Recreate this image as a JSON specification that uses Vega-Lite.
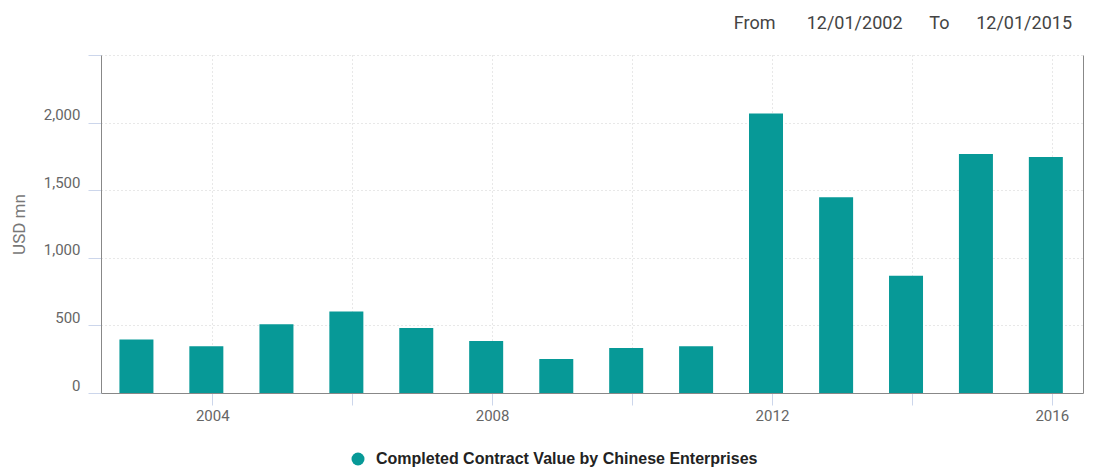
{
  "$schema": "https://vega.github.io/schema/vega-lite/v6.json",
  "width": 982,
  "height": 338,
  "autosize": {"type": "none"},
  "padding": {"left": 101, "top": 55, "right": 11, "bottom": 75},
  "background": "white",
  "title": {
    "text": "From\u00a0\u00a0\u00a0\u00a0\u00a0\u00a0\u00a012/01/2002\u00a0\u00a0\u00a0\u00a0\u00a0\u00a0To\u00a0\u00a0\u00a0\u00a0\u00a0\u00a012/01/2015",
    "anchor": "end",
    "frame": "group",
    "offset": 22,
    "dx": -11,
    "font": "Roboto",
    "fontSize": 18,
    "fontWeight": "normal",
    "color": "#444"
  },
  "data": {
    "values": [
      {"date": "2002-12-01", "value": 395, "series": "Completed Contract Value by Chinese Enterprises"},
      {"date": "2003-12-01", "value": 346, "series": "Completed Contract Value by Chinese Enterprises"},
      {"date": "2004-12-01", "value": 509, "series": "Completed Contract Value by Chinese Enterprises"},
      {"date": "2005-12-01", "value": 602, "series": "Completed Contract Value by Chinese Enterprises"},
      {"date": "2006-12-01", "value": 480, "series": "Completed Contract Value by Chinese Enterprises"},
      {"date": "2007-12-01", "value": 385, "series": "Completed Contract Value by Chinese Enterprises"},
      {"date": "2008-12-01", "value": 252, "series": "Completed Contract Value by Chinese Enterprises"},
      {"date": "2009-12-01", "value": 333, "series": "Completed Contract Value by Chinese Enterprises"},
      {"date": "2010-12-01", "value": 346, "series": "Completed Contract Value by Chinese Enterprises"},
      {"date": "2011-12-01", "value": 2067, "series": "Completed Contract Value by Chinese Enterprises"},
      {"date": "2012-12-01", "value": 1447, "series": "Completed Contract Value by Chinese Enterprises"},
      {"date": "2013-12-01", "value": 867, "series": "Completed Contract Value by Chinese Enterprises"},
      {"date": "2014-12-01", "value": 1768, "series": "Completed Contract Value by Chinese Enterprises"},
      {"date": "2015-12-01", "value": 1746, "series": "Completed Contract Value by Chinese Enterprises"}
    ]
  },
  "layer": [
    {
      "mark": {"type": "bar", "width": 34},
      "encoding": {
        "x": {
          "field": "date",
          "type": "temporal",
          "scale": {"padding": 0, "domain": [{"year": 2002, "month": 5, "date": 30, "utc": true}, {"year": 2016, "month": 6, "date": 12, "utc": true}]},
          "axis": {
            "title": null,
            "values": [
              {"year": 2004, "month": 1, "date": 1, "utc": true},
              {"year": 2006, "month": 1, "date": 1, "utc": true},
              {"year": 2008, "month": 1, "date": 1, "utc": true},
              {"year": 2010, "month": 1, "date": 1, "utc": true},
              {"year": 2012, "month": 1, "date": 1, "utc": true},
              {"year": 2014, "month": 1, "date": 1, "utc": true},
              {"year": 2016, "month": 1, "date": 1, "utc": true}
            ],
            "labelExpr": "utcyear(datum.value) % 4 == 0 ? utcFormat(datum.value, '%Y') : ''",
            "labelFont": "Roboto",
            "labelFontSize": 15,
            "labelColor": "#666",
            "labelPadding": 3,
            "tickColor": "#ccd6eb",
            "tickSize": 12,
            "domainColor": "#888",
            "grid": true,
            "gridColor": "#d0d0d0",
            "gridDash": [1, 3]
          }
        },
        "y": {
          "field": "value",
          "type": "quantitative",
          "scale": {"domain": [0, 2500], "nice": false},
          "axis": {
            "title": "USD mn",
            "titleFont": "Roboto",
            "titleFontSize": 17,
            "titleFontWeight": "normal",
            "titleColor": "#777",
            "titlePadding": 15,
            "values": [0, 500, 1000, 1500, 2000, 2500],
            "labelExpr": "datum.value == 2500 ? '' : format(datum.value, ',')",
            "labelFont": "Roboto",
            "labelFontSize": 15,
            "labelColor": "#666",
            "labelPadding": 8,
            "labelOffset": -8,
            "tickColor": "#ccd6eb",
            "tickSize": 13,
            "domainColor": "#888",
            "grid": true,
            "gridColor": "#d0d0d0",
            "gridDash": [1, 3]
          }
        },
        "color": {
          "field": "series",
          "type": "nominal",
          "scale": {"range": ["#079997"]},
          "legend": {
            "title": null,
            "orient": "none",
            "legendX": 249,
            "legendY": 396,
            "symbolType": "circle",
            "symbolSize": 169,
            "symbolStrokeWidth": 0,
            "labelOffset": 10,
            "labelFont": "Liberation Sans",
            "labelFontWeight": "bold",
            "labelFontSize": 16,
            "labelColor": "#222",
            "labelLimit": 700
          }
        }
      }
    },
    {
      "mark": {"type": "bar", "width": 34, "opacity": 0},
      "encoding": {
        "x": {
          "field": "date",
          "type": "temporal",
          "scale": {"padding": 0, "domain": [{"year": 2002, "month": 5, "date": 30, "utc": true}, {"year": 2016, "month": 6, "date": 12, "utc": true}]}
        },
        "y": {
          "field": "value",
          "type": "quantitative",
          "scale": {"domain": [0, 2500], "nice": false},
          "axis": {"orient": "right", "title": null, "labels": false, "ticks": false, "grid": false, "domainColor": "#888"}
        }
      }
    }
  ],
  "resolve": {"axis": {"y": "independent"}},
  "config": {"view": {"stroke": null}}
}
